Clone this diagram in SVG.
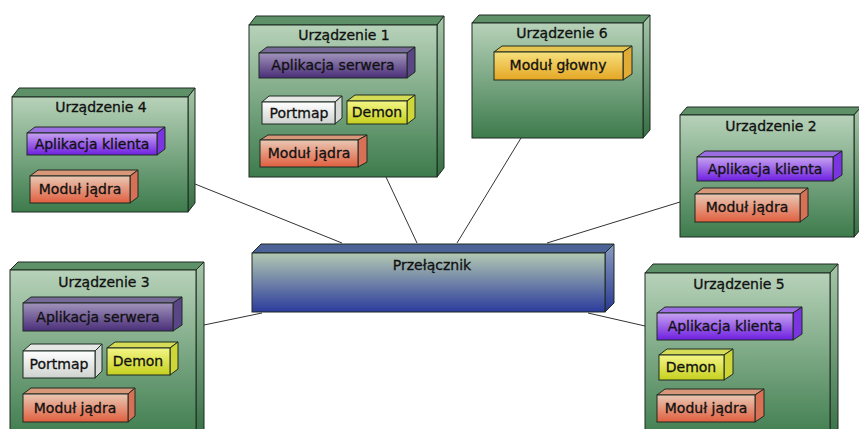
<svg xmlns="http://www.w3.org/2000/svg" width="859" height="429" viewBox="0 0 859 429">
<defs>
<linearGradient id="gDev" x1="0" y1="0" x2="0" y2="1"><stop offset="0" stop-color="#b7d2b9"/><stop offset="1" stop-color="#3d7b4c"/></linearGradient>
<linearGradient id="gDevR" x1="0" y1="0" x2="0" y2="1"><stop offset="0" stop-color="#a6c6a8"/><stop offset="1" stop-color="#356e43"/></linearGradient>
<linearGradient id="gSw" x1="0" y1="0" x2="0" y2="1"><stop offset="0" stop-color="#b3c9b2"/><stop offset="1" stop-color="#2b3b9c"/></linearGradient>
<linearGradient id="gSwR" x1="0" y1="0" x2="0" y2="1"><stop offset="0" stop-color="#8a9cc0"/><stop offset="1" stop-color="#283891"/></linearGradient>
<linearGradient id="gSrv" x1="0" y1="0" x2="0" y2="1"><stop offset="0" stop-color="#a093bb"/><stop offset="1" stop-color="#4a2e78"/></linearGradient>
<linearGradient id="gCli" x1="0" y1="0" x2="0" y2="1"><stop offset="0" stop-color="#c6a2f0"/><stop offset="1" stop-color="#6e1fe0"/></linearGradient>
<linearGradient id="gMod" x1="0" y1="0" x2="0" y2="1"><stop offset="0" stop-color="#e9c8b4"/><stop offset="1" stop-color="#e05f3f"/></linearGradient>
<linearGradient id="gPort" x1="0" y1="0" x2="0" y2="1"><stop offset="0" stop-color="#ffffff"/><stop offset="1" stop-color="#ced2ce"/></linearGradient>
<linearGradient id="gDem" x1="0" y1="0" x2="0" y2="1"><stop offset="0" stop-color="#f3f585"/><stop offset="1" stop-color="#c6d01e"/></linearGradient>
<linearGradient id="gGlo" x1="0" y1="0" x2="0" y2="1"><stop offset="0" stop-color="#f6e07c"/><stop offset="1" stop-color="#e4a624"/></linearGradient>
</defs>
<style>
polygon,rect{stroke:#1f2a22;stroke-width:1}
.dev{fill:url(#gDev)}
.devT{fill:#5f9168}
.devR{fill:url(#gDevR)}
.sw{fill:url(#gSw)}
.swT{fill:#4d6297}
.swR{fill:url(#gSwR)}
.srv{fill:url(#gSrv)} .srvT{fill:#786a98} .srvR{fill:#5a4585}
.cli{fill:url(#gCli)} .cliT{fill:#9a6ee0} .cliR{fill:#7a35e0}
.mod{fill:url(#gMod)} .modT{fill:#d9977a} .modR{fill:#d87055}
.port{fill:url(#gPort)} .portT{fill:#e6e8e6} .portR{fill:#d6d9d6}
.dem{fill:url(#gDem)} .demT{fill:#d6dc55} .demR{fill:#cfd638}
.glo{fill:url(#gGlo)} .gloT{fill:#e5c450} .gloR{fill:#e0ac35}
text{font-family:"DejaVu Sans","Liberation Sans",sans-serif;font-size:14px;fill:#111;stroke:#111;stroke-width:0.3;text-anchor:middle}
.conn line{stroke:#333;stroke-width:1}
</style>

<g class="conn" id="connectors">
<line x1="195" y1="184" x2="342" y2="243"/>
<line x1="386" y1="177" x2="417" y2="243"/>
<line x1="521" y1="138" x2="457" y2="243"/>
<line x1="680" y1="202" x2="547" y2="243"/>
<line x1="204" y1="325" x2="262" y2="313"/>
<line x1="588" y1="313" x2="645" y2="326"/>
</g>

<g id="switch">
<polygon class="swT" points="252,253 261,244 614,244 605,253"/>
<polygon class="swR" points="605,253 614,244 614,303 605,312"/>
<rect class="sw" x="252" y="253" width="353" height="59"/>
<text x="432" y="270">Przełącznik</text>
</g>

<g id="dev1">
<polygon class="devT" points="249,25 256,16 444,16 437,25"/>
<polygon class="devR" points="437,25 444,16 444,168 437,177"/>
<rect class="dev" x="249" y="25" width="188" height="152"/>
<text x="344" y="40">Urządzenie 1</text>
<g id="dev1-app">
<polygon class="srvT" points="259,53 267,47 415,47 407,53"/>
<polygon class="srvR" points="407,53 415,47 415,72 407,78"/>
<rect class="srv" x="259" y="53" width="148" height="25"/>
<text x="333" y="70">Aplikacja serwera</text>
</g>
<g id="dev1-portmap">
<polygon class="portT" points="262,102 269,96 342,96 335,102"/>
<polygon class="portR" points="335,102 342,96 342,118 335,124"/>
<rect class="port" x="262" y="102" width="73" height="22"/>
<text x="299" y="118">Portmap</text>
</g>
<g id="dev1-demon">
<polygon class="demT" points="347,101 355,95 415,95 407,101"/>
<polygon class="demR" points="407,101 415,95 415,118 407,124"/>
<rect class="dem" x="347" y="101" width="60" height="23"/>
<text x="377" y="117">Demon</text>
</g>
<g id="dev1-mod">
<polygon class="modT" points="260,140 268,135 367,135 358,140"/>
<polygon class="modR" points="358,140 367,135 367,162 358,167"/>
<rect class="mod" x="260" y="140" width="98" height="27"/>
<text x="309" y="158">Moduł jądra</text>
</g>
</g>

<g id="dev4">
<polygon class="devT" points="12,97 19,88 195,88 188,97"/>
<polygon class="devR" points="188,97 195,88 195,203 188,212"/>
<rect class="dev" x="12" y="97" width="176" height="115"/>
<text x="101" y="112">Urządzenie 4</text>
<g id="dev4-app">
<polygon class="cliT" points="27,133 35,127 165,127 157,133"/>
<polygon class="cliR" points="157,133 165,127 165,149 157,155"/>
<rect class="cli" x="27" y="133" width="130" height="22"/>
<text x="92" y="149">Aplikacja klienta</text>
</g>
<g id="dev4-mod">
<polygon class="modT" points="30,176 38,170 138,170 130,176"/>
<polygon class="modR" points="130,176 138,170 138,197 130,203"/>
<rect class="mod" x="30" y="176" width="100" height="27"/>
<text x="80" y="194">Moduł jądra</text>
</g>
</g>

<g id="dev6">
<polygon class="devT" points="472,23 479,15 650,15 643,23"/>
<polygon class="devR" points="643,23 650,15 650,130 643,138"/>
<rect class="dev" x="472" y="23" width="171" height="115"/>
<text x="562" y="38">Urządzenie 6</text>
<g id="dev6-mod">
<polygon class="gloT" points="494,52 502,46 632,46 623,52"/>
<polygon class="gloR" points="623,52 632,46 632,74 623,80"/>
<rect class="glo" x="494" y="52" width="129" height="28"/>
<text x="558" y="70">Moduł głowny</text>
</g>
</g>

<g id="dev2">
<polygon class="devT" points="680,115 687,107 861,107 854,115"/>
<polygon class="devR" points="854,115 861,107 861,229 854,237"/>
<rect class="dev" x="680" y="115" width="174" height="122"/>
<text x="771" y="131">Urządzenie 2</text>
<g id="dev2-app">
<polygon class="cliT" points="697,157 705,151 842,151 833,157"/>
<polygon class="cliR" points="833,157 842,151 842,175 833,181"/>
<rect class="cli" x="697" y="157" width="136" height="24"/>
<text x="765" y="174">Aplikacja klienta</text>
</g>
<g id="dev2-mod">
<polygon class="modT" points="695,194 703,188 808,188 800,194"/>
<polygon class="modR" points="800,194 808,188 808,216 800,222"/>
<rect class="mod" x="695" y="194" width="105" height="28"/>
<text x="747" y="212">Moduł jądra</text>
</g>
</g>

<g id="dev3">
<polygon class="devT" points="10,270 18,262 204,262 196,270"/>
<polygon class="devR" points="196,270 204,262 204,432 196,440"/>
<rect class="dev" x="10" y="270" width="186" height="170"/>
<text x="104" y="287">Urządzenie 3</text>
<g id="dev3-app">
<polygon class="srvT" points="23,303 31,297 182,297 173,303"/>
<polygon class="srvR" points="173,303 182,297 182,325 173,331"/>
<rect class="srv" x="23" y="303" width="150" height="28"/>
<text x="98" y="322">Aplikacja serwera</text>
</g>
<g id="dev3-portmap">
<polygon class="portT" points="23,351 31,344 102,344 95,351"/>
<polygon class="portR" points="95,351 102,344 102,371 95,378"/>
<rect class="port" x="23" y="351" width="72" height="27"/>
<text x="59" y="369">Portmap</text>
</g>
<g id="dev3-demon">
<polygon class="demT" points="107,348 115,342 178,342 170,348"/>
<polygon class="demR" points="170,348 178,342 178,369 170,375"/>
<rect class="dem" x="107" y="348" width="63" height="27"/>
<text x="138" y="366">Demon</text>
</g>
<g id="dev3-mod">
<polygon class="modT" points="23,394 31,388 135,388 128,394"/>
<polygon class="modR" points="128,394 135,388 135,416 128,422"/>
<rect class="mod" x="23" y="394" width="105" height="28"/>
<text x="75" y="413">Moduł jądra</text>
</g>
</g>

<g id="dev5">
<polygon class="devT" points="645,273 653,264 838,264 830,273"/>
<polygon class="devR" points="830,273 838,264 838,434 830,443"/>
<rect class="dev" x="645" y="273" width="185" height="170"/>
<text x="739" y="289">Urządzenie 5</text>
<g id="dev5-app">
<polygon class="cliT" points="657,313 665,307 802,307 793,313"/>
<polygon class="cliR" points="793,313 802,307 802,334 793,340"/>
<rect class="cli" x="657" y="313" width="136" height="27"/>
<text x="725" y="331">Aplikacja klienta</text>
</g>
<g id="dev5-demon">
<polygon class="demT" points="659,355 667,349 733,349 724,355"/>
<polygon class="demR" points="724,355 733,349 733,374 724,380"/>
<rect class="dem" x="659" y="355" width="65" height="25"/>
<text x="691" y="372">Demon</text>
</g>
<g id="dev5-mod">
<polygon class="modT" points="657,395 665,389 764,389 755,395"/>
<polygon class="modR" points="755,395 764,389 764,416 755,422"/>
<rect class="mod" x="657" y="395" width="98" height="27"/>
<text x="706" y="413">Moduł jądra</text>
</g>
</g>
</svg>
